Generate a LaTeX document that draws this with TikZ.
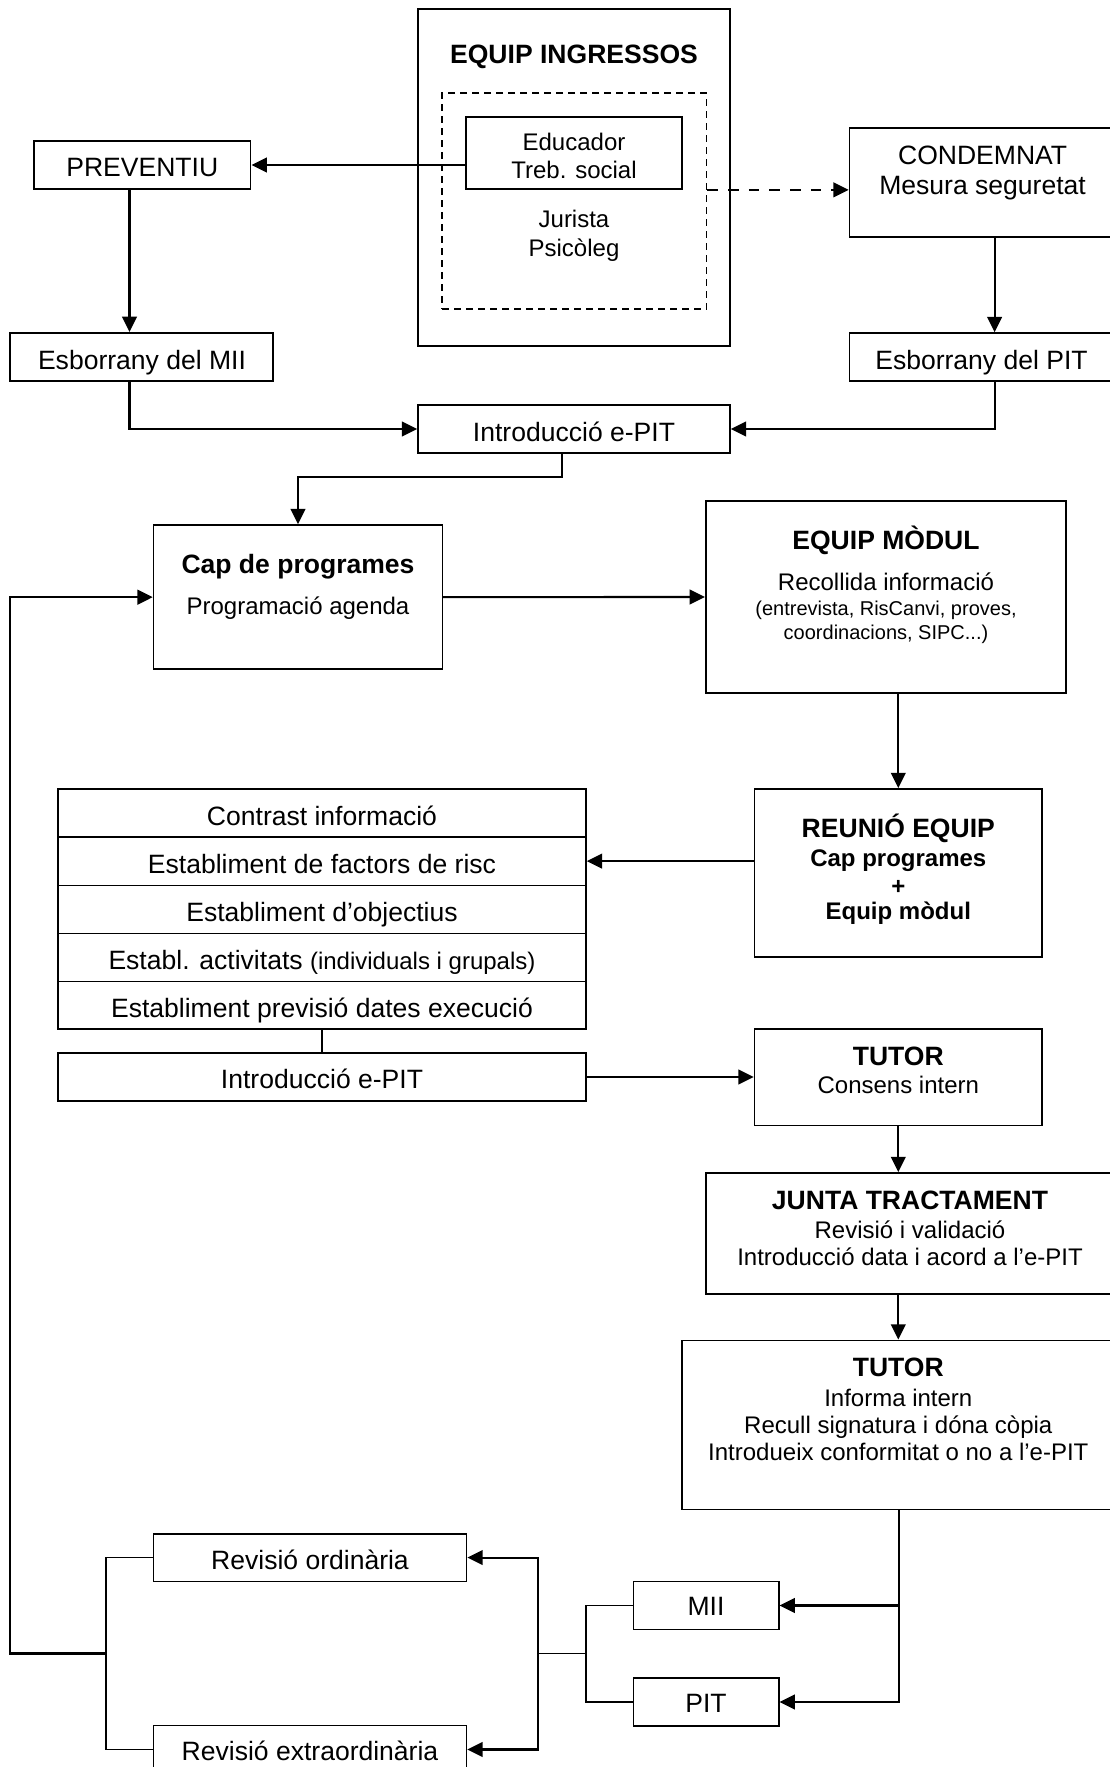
\documentclass[tikz,border=0pt]{standalone}
\usepackage{fontspec}
\setmainfont{Liberation Sans}
\usetikzlibrary{arrows.meta}
\newcommand\mkbox[6][]{\node[box,#1,minimum width={(#5-#3)*0.75pt},minimum height={(#6-#4)*0.75pt}] (#2) at ({(#3+#5)/2},{(#4+#6)/2}) {};}
\begin{document}
\begin{tikzpicture}[x=0.75pt,y=-0.75pt,
  box/.style={draw, line width=1.25pt, inner sep=0pt, rectangle},
  dbox/.style={line width=1.4pt, dash pattern=on 5.25pt off 3.75pt},
  tb/.style={inner sep=0pt, text height=14.2pt, text depth=0pt, font=\fontsize{19.9pt}{23pt}\selectfont},
  tbb/.style={tb, font=\fontsize{19.9pt}{23pt}\selectfont\bfseries},
  tm/.style={inner sep=0pt, text height=12.9pt, text depth=0pt, font=\fontsize{18pt}{21pt}\selectfont},
  tmb/.style={tm, font=\fontsize{18pt}{21pt}\selectfont\bfseries},
  ts/.style={inner sep=0pt, text height=10.7pt, text depth=0pt, font=\fontsize{15pt}{18pt}\selectfont},
  arr/.style={line width=1.6pt, -{Triangle[length=11.5pt,width=11pt]}},
  darr/.style={arr, dash pattern=on 8pt off 7.5pt},
  ln/.style={line width=1.15pt}
]
\useasboundingbox (0,0) rectangle (1110,1767);
\clip (0,0) rectangle (1110,1767);

% boxes
\mkbox{ingr}{418}{9.3}{730}{345.7}
\mkbox[dbox]{dashbox}{442}{93}{706.5}{309}
\mkbox{edu}{466}{117}{682}{189}
\mkbox{prev}{34}{141}{250.6}{189}
\mkbox{cond}{849.5}{128}{1116}{237}
\mkbox{esbmii}{10}{332.7}{273}{381}
\mkbox{esbpit}{849.5}{333}{1116}{381}
\mkbox{introa}{418}{405}{730}{453}
\mkbox{cap}{153.6}{525}{442.4}{669.3}
\mkbox{modul}{705.8}{501}{1066}{693}
\mkbox{reunio}{754.6}{789}{1042}{957}
\mkbox{ra}{58}{789}{586}{836.8}
\mkbox{rb}{58}{836.8}{586}{885.4}
\mkbox{rc}{58}{885.4}{586}{933.6}
\mkbox{rd}{58}{933.6}{586}{981.4}
\mkbox{re}{58}{981.4}{586}{1029}
\mkbox{introb}{58}{1053}{586}{1101}
\mkbox{tutora}{754.6}{1029}{1042}{1125.6}
\mkbox{junta}{705.8}{1173}{1116}{1293.7}
\mkbox{tutorb}{681.7}{1340.4}{1116}{1509.6}
\mkbox{mii}{633.6}{1581.4}{778.7}{1629.6}
\mkbox{pit}{633.6}{1678}{778.7}{1726}
\mkbox{revord}{153.6}{1533.7}{466.5}{1581.4}
\mkbox{revext}{153.6}{1725.5}{466.5}{1773.5}

% texts
\node[tbb] (t1) at (574,53.8) {EQUIP INGRESSOS};
\node[tm] (t2) at (574,142) {Educador};
\node[tm] (t3) at (574,169.7) {Treb. social};
\node[tm] (t4) at (574,219) {Jurista};
\node[tm] (t5) at (574,248) {Psicòleg};
\node[tb] (t6) at (142.3,167.5) {PREVENTIU};
\node[tb] (t7) at (982.6,155) {CONDEMNAT};
\node[tb] (t8) at (982.6,185) {Mesura seguretat};
\node[tb] (t9) at (142,360) {Esborrany del MII};
\node[tb] (t10) at (981.5,360) {Esborrany del PIT};
\node[tb] (t11) at (574,432) {Introducció e-PIT};
\node[tbb] (t12) at (298,563.9) {Cap de programes};
\node[tm] (t13) at (298,605.7) {Programació agenda};
\node[tbb] (t14) at (886,540.5) {EQUIP MÒDUL};
\node[tm] (t15) at (886,582) {Recollida informació};
\node[ts] (t16) at (886,608.75) {(entrevista, RisCanvi, proves,};
\node[ts] (t17) at (886,632) {coordinacions, SIPC...)};
\node[tbb] (t18) at (898.3,827.9) {REUNIÓ EQUIP};
\node[tmb] (t19) at (898.3,857.5) {Cap programes};
\node[tmb] (t20) at (898.3,885.7) {+};
\node[tmb] (t21) at (898.3,911) {Equip mòdul};
\node[tb] (t22) at (322,816.4) {Contrast informació};
\node[tb] (t23) at (322,864) {Establiment de factors de risc};
\node[tb] (t24) at (322,911.8) {Establiment d’objectius};
\node[tb] (t25) at (322,960) {Establ. activitats {\fontsize{18pt}{21pt}\selectfont(individuals i grupals)}};
\node[tb] (t26) at (322,1008.4) {Establiment previsió dates execució};
\node[tb] (t27) at (322,1078.9) {Introducció e-PIT};
\node[tbb] (t28) at (898.3,1055.8) {TUTOR};
\node[tm] (t29) at (898.3,1084.9) {Consens intern};
\node[tbb] (t30) at (910,1199.9) {JUNTA TRACTAMENT};
\node[tm] (t31) at (910,1229.7) {Revisió i validació};
\node[tm] (t32) at (910,1256.9) {Introducció data i acord a l’e-PIT};
\node[tbb] (t33) at (898.3,1367.5) {TUTOR};
\node[tm] (t34) at (898.3,1398.2) {Informa intern};
\node[tm] (t35) at (898.3,1425) {Recull signatura i dóna còpia};
\node[tm] (t36) at (898.3,1451.9) {Introdueix conformitat o no a l’e-PIT};
\node[tb] (t37) at (310,1559.8) {Revisió ordinària};
\node[tb] (t38) at (706,1606.5) {MII};
\node[tb] (t39) at (706,1703.4) {PIT};
\node[tb] (t40) at (310,1750.6) {Revisió extraordinària};

% helper coordinates
\coordinate (cL) at (129.5,0);
\coordinate (cR) at (994.6,0);
\coordinate (j1) at (562,476.8);
\coordinate (b1) at (586,1653.5);
\coordinate (b2) at (538,1653.5);
\coordinate (b3) at (106,1653.5);
\coordinate (b4) at (10,1653.5);

% connectors
\draw[arr] (edu.west |- prev.east) -- (prev.east);
\draw[darr] (dashbox.east |- edu.south) -- (cond.west |- edu.south);
\draw[arr] (prev.south -| cL) -- (esbmii.north -| cL);
\draw[arr] (cond.south -| cR) -- (esbpit.north -| cR);
\draw[arr] (esbmii.south -| cL) |- (introa.west);
\draw[arr] (esbpit.south -| cR) |- (introa.east);
\draw[arr] (introa.south -| j1) -- (j1) -| (cap.north);
\draw[arr] (cap.east) -- (modul.west);
\draw[arr] (modul.south -| reunio.north) -- (reunio.north);
\draw[arr] (reunio.west |- rb.east) -- (rb.east);
\draw[ln] (re.south) -- (introb.north);
\draw[arr] (introb.east) -- (tutora.west |- introb.east);
\draw[arr] (tutora.south) -- (tutora.south |- junta.north);
\draw[arr] (tutora.south |- junta.south) -- (tutora.south |- tutorb.north);
\draw[arr] (tutorb.south) |- (mii.east);
\draw[arr] (tutorb.south) |- (pit.east);
\draw[ln] (mii.west) -| (b1) |- (pit.west);
\draw[ln] (b1) -- (b2);
\draw[arr] (b2) |- (revord.east);
\draw[arr] (b2) |- (revext.east);
\draw[ln] (revord.west) -| (b3) |- (revext.west);
\draw[arr] (b3) -- (b4) |- (cap.west);
\end{tikzpicture}
\end{document}
